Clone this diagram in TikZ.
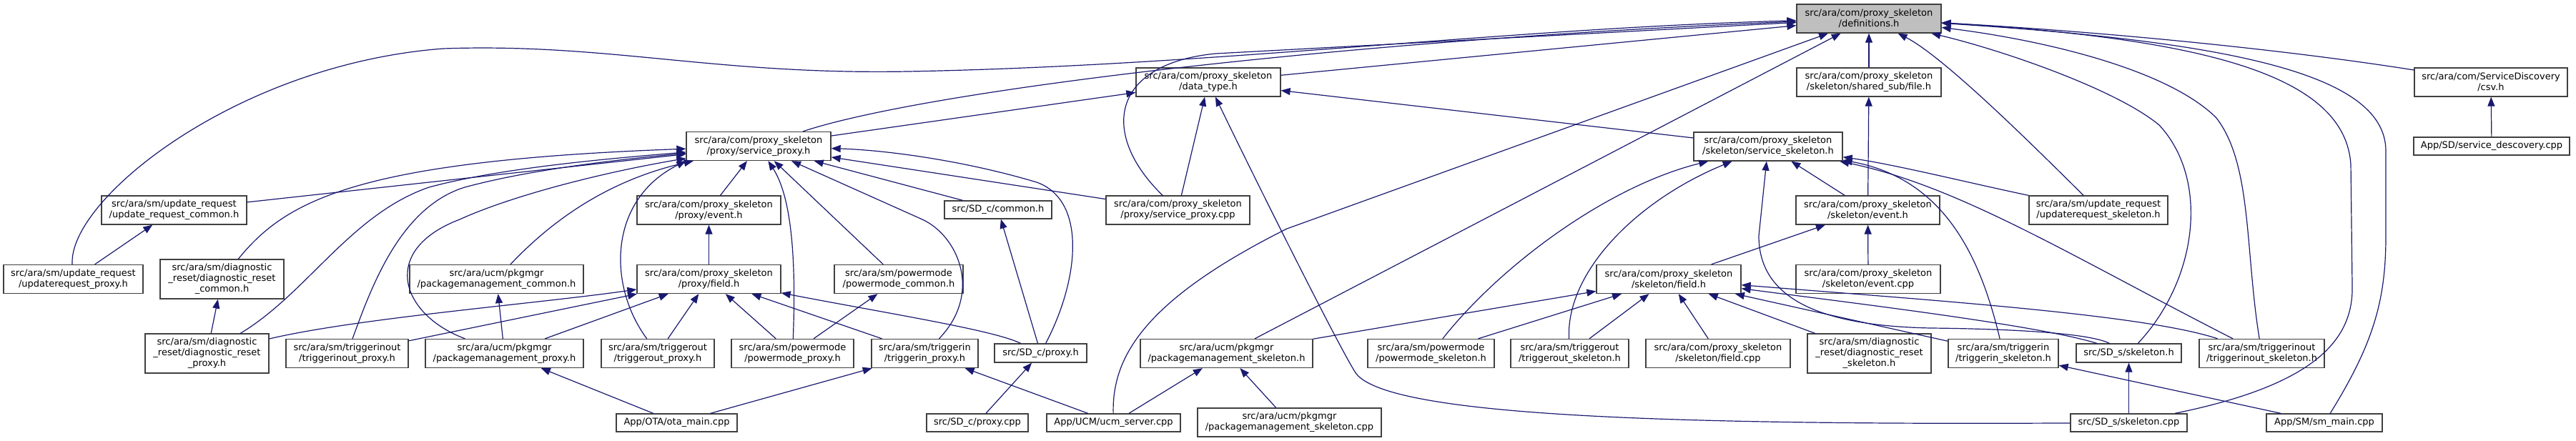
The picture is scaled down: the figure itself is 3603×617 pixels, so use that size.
\documentclass[tikz,border=0pt]{standalone}
\usepackage{fontspec}
\setmainfont{DejaVu Sans}
\usetikzlibrary{arrows.meta}
\definecolor{edgeblue}{HTML}{191970}
\definecolor{boxline}{HTML}{404040}
\definecolor{defsfill}{HTML}{BFBFBF}
\begin{document}
\begin{tikzpicture}[x=1pt,y=-1pt,
  box/.style={draw=boxline, line width=1.3pt, fill=white, inner xsep=2pt, inner ysep=0pt, align=center, font=\fontsize{13}{15}\selectfont},
  edge/.style={draw=edgeblue, line width=1.2pt, -{Triangle[length=13pt,width=10pt]}},
]
\useasboundingbox (0,0) rectangle (3603,617);
% nodes
\node[box, fill=defsfill, minimum width=202pt, minimum height=40pt] (defs) at (2614,26) {src/ara/com/proxy\_skeleton\\/definitions.h};
\node[box, minimum width=202pt, minimum height=40pt] (datatype) at (1690,115) {src/ara/com/proxy\_skeleton\\/data\_type.h};
\node[box, minimum width=202pt, minimum height=40pt] (sharedsub) at (2614,115) {src/ara/com/proxy\_skeleton\\/skeleton/shared\_sub/file.h};
\node[box, minimum width=214pt, minimum height=40pt] (csvh) at (3484,115) {src/ara/com/ServiceDiscovery\\/csv.h};
\node[box, minimum width=202pt, minimum height=40pt] (svcproxy) at (1061,204.5) {src/ara/com/proxy\_skeleton\\/proxy/service\_proxy.h};
\node[box, minimum width=208pt, minimum height=40pt] (svcskel) at (2473,205) {src/ara/com/proxy\_skeleton\\/skeleton/service\_skeleton.h};
\node[box, minimum width=218pt, minimum height=25pt] (sddisc) at (3485,204.5) {App/SD/service\_descovery.cpp};
\node[box, minimum width=203pt, minimum height=40pt] (urcommon) at (243.5,294) {src/ara/sm/update\_request\\/update\_request\_common.h};
\node[box, minimum width=201pt, minimum height=40pt] (pevent) at (991.5,294) {src/ara/com/proxy\_skeleton\\/proxy/event.h};
\node[box, minimum width=150pt, minimum height=25pt] (sdcommon) at (1396,293.5) {src/SD\_c/common.h};
\node[box, minimum width=201pt, minimum height=40pt] (spcpp) at (1647.5,294) {src/ara/com/proxy\_skeleton\\/proxy/service\_proxy.cpp};
\node[box, minimum width=201pt, minimum height=40pt] (sevent) at (2612.5,294) {src/ara/com/proxy\_skeleton\\/skeleton/event.h};
\node[box, minimum width=194pt, minimum height=40pt] (urskel) at (2935,294) {src/ara/sm/update\_request\\/updaterequest\_skeleton.h};
\node[box, minimum width=195pt, minimum height=40pt] (urproxy) at (102.5,390.5) {src/ara/sm/update\_request\\/updaterequest\_proxy.h};
\node[box, minimum width=173pt, minimum height=55pt] (drcommon) at (310.5,390.5) {src/ara/sm/diagnostic\\\_reset/diagnostic\_reset\\\_common.h};
\node[box, minimum width=243pt, minimum height=40pt] (pmcommon) at (694.5,390.5) {src/ara/ucm/pkgmgr\\/packagemanagement\_common.h};
\node[box, minimum width=201pt, minimum height=40pt] (pfield) at (991.5,390.5) {src/ara/com/proxy\_skeleton\\/proxy/field.h};
\node[box, minimum width=180pt, minimum height=40pt] (pwcommon) at (1257,390.5) {src/ara/sm/powermode\\/powermode\_common.h};
\node[box, minimum width=202pt, minimum height=40pt] (sfield) at (2334,390.5) {src/ara/com/proxy\_skeleton\\/skeleton/field.h};
\node[box, minimum width=202pt, minimum height=40pt] (seventcpp) at (2613,390.5) {src/ara/com/proxy\_skeleton\\/skeleton/event.cpp};
\node[box, minimum width=173pt, minimum height=55pt] (drproxy) at (289.5,494.5) {src/ara/sm/diagnostic\\\_reset/diagnostic\_reset\\\_proxy.h};
\node[box, minimum width=171pt, minimum height=40pt] (tioproxy) at (485.5,494.5) {src/ara/sm/triggerinout\\/triggerinout\_proxy.h};
\node[box, minimum width=221pt, minimum height=40pt] (pmproxy) at (705.5,494.5) {src/ara/ucm/pkgmgr\\/packagemanagement\_proxy.h};
\node[box, minimum width=158pt, minimum height=40pt] (toproxy) at (920,494.5) {src/ara/sm/triggerout\\/triggerout\_proxy.h};
\node[box, minimum width=171pt, minimum height=40pt] (pwproxy) at (1108.5,494.5) {src/ara/sm/powermode\\/powermode\_proxy.h};
\node[box, minimum width=149pt, minimum height=40pt] (tiproxy) at (1293.5,494.5) {src/ara/sm/triggerin\\/triggerin\_proxy.h};
\node[box, minimum width=129pt, minimum height=26pt] (sdcproxy) at (1455.5,494) {src/SD\_c/proxy.h};
\node[box, minimum width=241pt, minimum height=40pt] (pmskel) at (1715.5,494.5) {src/ara/ucm/pkgmgr\\/packagemanagement\_skeleton.h};
\node[box, minimum width=177pt, minimum height=40pt] (pwskel) at (2001.5,494.5) {src/ara/sm/powermode\\/powermode\_skeleton.h};
\node[box, minimum width=165pt, minimum height=40pt] (toskel) at (2195.5,494.5) {src/ara/sm/triggerout\\/triggerout\_skeleton.h};
\node[box, minimum width=202pt, minimum height=40pt] (sfieldcpp) at (2403,494.5) {src/ara/com/proxy\_skeleton\\/skeleton/field.cpp};
\node[box, minimum width=173pt, minimum height=55pt] (drskel) at (2614.5,494.5) {src/ara/sm/diagnostic\\\_reset/diagnostic\_reset\\\_skeleton.h};
\node[box, minimum width=154pt, minimum height=40pt] (tiskel) at (2802,494.5) {src/ara/sm/triggerin\\/triggerin\_skeleton.h};
\node[box, minimum width=147pt, minimum height=26pt] (sdsskel) at (2977.5,494) {src/SD\_s/skeleton.h};
\node[box, minimum width=175pt, minimum height=40pt] (tioskel) at (3163.5,494.5) {src/ara/sm/triggerinout\\/triggerinout\_skeleton.h};
\node[box, minimum width=169pt, minimum height=25pt] (otamain) at (946.5,591.5) {App/OTA/ota\_main.cpp};
\node[box, minimum width=142pt, minimum height=25pt] (sdcproxycpp) at (1367,591.5) {src/SD\_c/proxy.cpp};
\node[box, minimum width=187pt, minimum height=25pt] (ucmserver) at (1557.5,591.5) {App/UCM/ucm\_server.cpp};
\node[box, minimum width=257pt, minimum height=40pt] (pmskelcpp) at (1803.5,591) {src/ara/ucm/pkgmgr\\/packagemanagement\_skeleton.cpp};
\node[box, minimum width=163pt, minimum height=25pt] (sdsskelcpp) at (2977.5,591.5) {src/SD\_s/skeleton.cpp};
\node[box, minimum width=162pt, minimum height=25pt] (smmain) at (3251,591.5) {App/SM/sm\_main.cpp};
% edges into definitions.h
\draw[edge] (svcproxy) .. controls (1300,125) and (1900,55) .. (defs);
\draw[edge] (datatype) -- (defs);
\draw[edge] (spcpp) .. controls (1540,190) and (1550,90) .. (1700,75) -- (defs);
\draw[edge] (urproxy) .. controls (95,280) and (330,90) .. (620,68) .. controls (850,60) and (1000,105) .. (1270,100) .. controls (1700,92) and (2100,40) .. (defs);
\draw[edge] (ucmserver) .. controls (1555,500) and (1600,420) .. (1800,320) -- (defs);
\draw[edge] (pmskel) -- (defs);
\draw[edge] (sharedsub) -- (defs);
\draw[edge] (urskel) .. controls (2850,210) and (2720,80) .. (defs);
\draw[edge] (csvh) .. controls (3200,70) and (2950,45) .. (defs);
\draw[edge] (sdsskel) .. controls (3075,390) and (3090,250) .. (3020,175) .. controls (2960,125) and (2800,70) .. (defs);
\draw[edge] (tioskel) .. controls (3140,350) and (3150,230) .. (3100,165) .. controls (3030,95) and (2850,55) .. (defs);
\draw[edge] (sdsskelcpp) .. controls (3230,540) and (3292,480) .. (3290,400) -- (3288,230) .. controls (3280,110) and (3100,55) .. (defs);
\draw[edge] (smmain) .. controls (3320,480) and (3337,420) .. (3337,330) -- (3337,210) .. controls (3335,110) and (3150,60) .. (defs);
% into data_type.h
\draw[edge] (svcproxy) -- (datatype);
\draw[edge] (svcskel) -- (datatype);
\draw[edge] (spcpp) -- (datatype);
\draw[edge] (sdsskelcpp) .. controls (2300,595) and (1930,580) .. (1895,520) .. controls (1870,480) and (1760,260) .. (datatype);
% into service_proxy.h
\draw[edge] (urcommon) -- (svcproxy);
\draw[edge] (drcommon) .. controls (400,280) and (500,225) .. (svcproxy);
\draw[edge] (drproxy) .. controls (430,410) and (490,300) .. (600,262) .. controls (700,235) and (850,222) .. (svcproxy);
\draw[edge] (tioproxy) .. controls (520,400) and (560,290) .. (650,262) .. controls (750,235) and (880,222) .. (svcproxy);
\draw[edge] (pmproxy) .. controls (560,440) and (530,350) .. (643,307) .. controls (720,272) and (850,240) .. (svcproxy);
\draw[edge] (pmcommon) .. controls (780,300) and (860,250) .. (svcproxy);
\draw[edge] (toproxy) .. controls (850,400) and (850,280) .. (svcproxy.south west);
\draw[edge] (pevent) -- (svcproxy);
\draw[edge] (pwproxy) .. controls (1113,380) and (1110,280) .. (svcproxy);
\draw[edge] (pwcommon) -- (svcproxy);
\draw[edge] (tiproxy) .. controls (1375,410) and (1340,330) .. (1290,307) -- (svcproxy);
\draw[edge] (sdcommon) -- (svcproxy);
\draw[edge] (spcpp) -- (svcproxy);
\draw[edge] (sdcproxy) .. controls (1510,390) and (1520,280) .. (1450,255) .. controls (1350,225) and (1240,210) .. (svcproxy);
% proxy side
\draw[edge] (urproxy) -- (urcommon);
\draw[edge] (drproxy) -- (drcommon);
\draw[edge] (pmproxy) -- (pmcommon);
\draw[edge] (pfield) -- (pevent);
\draw[edge] (drproxy) .. controls (500,445) and (750,425) .. (pfield);
\draw[edge] (tioproxy) -- (pfield);
\draw[edge] (pmproxy) -- (pfield);
\draw[edge] (toproxy) -- (pfield);
\draw[edge] (pwproxy) -- (pfield);
\draw[edge] (tiproxy) -- (pfield);
\draw[edge] (sdcproxy) .. controls (1390,462) and (1250,440) .. (pfield);
\draw[edge] (pwproxy) -- (pwcommon);
\draw[edge] (sdcproxy) -- (sdcommon);
\draw[edge] (otamain) -- (tiproxy);
\draw[edge] (ucmserver) -- (tiproxy);
\draw[edge] (otamain) -- (pmproxy);
\draw[edge] (sdcproxycpp) -- (sdcproxy);
\draw[edge] (ucmserver) -- (pmskel);
\draw[edge] (pmskelcpp) -- (pmskel);
% into service_skeleton.h
\draw[edge] (pwskel) .. controls (2100,370) and (2250,260) .. (svcskel);
\draw[edge] (toskel) .. controls (2190,380) and (2290,280) .. (svcskel);
\draw[edge] (sdsskel) .. controls (2920,465) and (2800,460) .. (2700,459) .. controls (2550,456) and (2460,420) .. (2460,330) -- (svcskel);
\draw[edge] (sevent) -- (svcskel);
\draw[edge] (urskel) .. controls (2750,255) and (2650,230) .. (svcskel);
\draw[edge] (tiskel) .. controls (2770,360) and (2720,250) .. (svcskel);
\draw[edge] (tioskel) .. controls (2900,360) and (2740,260) .. (svcskel);
% skeleton side
\draw[edge] (sfield) -- (sevent);
\draw[edge] (seventcpp) -- (sevent);
\draw[edge] (sevent) -- (sharedsub);
\draw[edge] (pmskel) -- (sfield);
\draw[edge] (pwskel) -- (sfield);
\draw[edge] (toskel) -- (sfield);
\draw[edge] (sfieldcpp) -- (sfield);
\draw[edge] (drskel) -- (sfield);
\draw[edge] (tiskel) -- (sfield);
\draw[edge] (sdsskel) .. controls (2850,455) and (2600,425) .. (sfield);
\draw[edge] (tioskel) .. controls (3000,440) and (2700,420) .. (sfield);
\draw[edge] (smmain) -- (tiskel);
\draw[edge] (sdsskelcpp) -- (sdsskel);
\draw[edge] (sddisc) -- (csvh);
\end{tikzpicture}
\end{document}
